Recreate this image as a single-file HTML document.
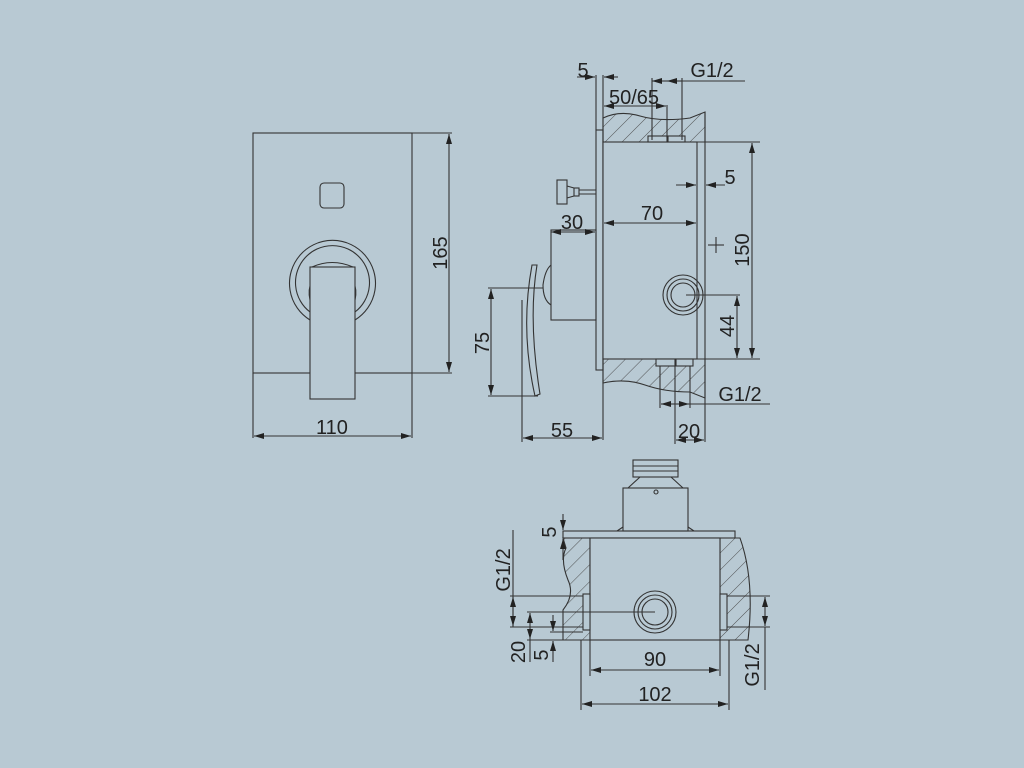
<!DOCTYPE html>
<html><head><meta charset="utf-8"><style>
html,body{margin:0;padding:0;background:#b8c9d3;}
svg{display:block}
text{font-family:"Liberation Sans",sans-serif;font-size:20px;fill:#222;}
</style></head><body>
<svg width="1024" height="768" viewBox="0 0 1024 768" xmlns="http://www.w3.org/2000/svg">
<defs>
<pattern id="h" patternUnits="userSpaceOnUse" width="12" height="12" patternTransform="rotate(45)">
<line x1="0" y1="0" x2="0" y2="12" stroke="#444" stroke-width="0.9"/>
</pattern>
<marker id="a" viewBox="0 0 10 6" refX="10" refY="3" markerWidth="10" markerHeight="6" orient="auto-start-reverse" markerUnits="userSpaceOnUse">
<path d="M0,0 L10,3 L0,6 z" fill="#222"/>
</marker>
</defs>
<rect width="1024" height="768" fill="#b8c9d3"/>
<g fill="none" stroke="#333" stroke-width="1.1">
<!-- LEFT FRONT VIEW -->
<rect x="253" y="133" width="159" height="240"/>
<line x1="412" y1="133" x2="452" y2="133"/>
<line x1="412" y1="373" x2="452" y2="373"/>
<line x1="449" y1="134" x2="449" y2="372" marker-start="url(#a)" marker-end="url(#a)"/>
<line x1="253" y1="373" x2="253" y2="438"/>
<line x1="412" y1="373" x2="412" y2="438"/>
<line x1="254" y1="436" x2="411" y2="436" marker-start="url(#a)" marker-end="url(#a)"/>
<rect x="320" y="183" width="24" height="25" rx="4"/>
<path d="M310,320 A43,43 0 1 1 355,320"/>
<path d="M310,312 A37,37 0 1 1 355,312"/>
<path d="M310,300 A31,31 0 0 1 312,280"/>
<path d="M355,300 A31,31 0 0 0 353,280"/>
<rect x="310" y="267" width="45" height="132" fill="#b8c9d3"/>
<path d="M312,267 Q332,258 353,267"/>

<!-- SIDE VIEW -->
<path d="M603,142 L603,118 Q620,110 640,116 T690,118 L705,112 L705,142 Z" fill="url(#h)"/>
<path d="M603,359 L603,383 Q625,378 645,385 T690,392 L705,398 L705,359 Z" fill="url(#h)"/>
<line x1="603" y1="75" x2="603" y2="440"/>
<rect x="596" y="130" width="7" height="240"/>
<line x1="596" y1="75" x2="596" y2="130"/>
<rect x="603" y="142" width="94" height="217" fill="#b8c9d3"/>
<line x1="705" y1="112" x2="705" y2="442"/>
<rect x="648" y="136" width="19" height="6" fill="#b8c9d3"/>
<rect x="668" y="136" width="17" height="6" fill="#b8c9d3"/>
<rect x="656" y="359" width="19" height="7" fill="#b8c9d3"/>
<rect x="676" y="359" width="17" height="7" fill="#b8c9d3"/>
<circle cx="683" cy="295" r="20"/><circle cx="683" cy="295" r="16"/><circle cx="683" cy="295" r="12"/>
<line x1="686" y1="295" x2="740" y2="295"/>
<rect x="551" y="230" width="45" height="90"/>
<rect x="557" y="180" width="10" height="24"/>
<line x1="567" y1="186" x2="574" y2="188"/><line x1="567" y1="198" x2="574" y2="196"/>
<rect x="574" y="188" width="5" height="8"/>
<line x1="579" y1="190" x2="596" y2="190"/><line x1="579" y1="194" x2="596" y2="194"/>
<path d="M551,265 Q545,270 543,285 Q543,300 551,305"/>
<path d="M532,265 L537,265 Q528,320 540,394 L535,396 Q520,330 532,265 Z"/>
<line x1="488" y1="288" x2="543" y2="288"/>
<line x1="488" y1="396" x2="538" y2="396"/>
<line x1="491" y1="289" x2="491" y2="395" marker-start="url(#a)" marker-end="url(#a)"/>
<line x1="522" y1="300" x2="522" y2="442"/>
<line x1="523" y1="438" x2="602" y2="438" marker-start="url(#a)" marker-end="url(#a)"/>
<line x1="577" y1="77" x2="595" y2="77" marker-end="url(#a)"/>
<line x1="618" y1="77" x2="604" y2="77" marker-end="url(#a)"/>
<line x1="652" y1="81" x2="745" y2="81"/>
<line x1="652" y1="81" x2="667" y2="81" marker-start="url(#a)"/>
<line x1="682" y1="81" x2="667" y2="81" marker-end="url(#a)"/>
<line x1="652" y1="78" x2="652" y2="140"/>
<line x1="682" y1="78" x2="682" y2="140"/>
<line x1="667" y1="105" x2="667" y2="138"/>
<line x1="604" y1="106" x2="666" y2="106" marker-start="url(#a)" marker-end="url(#a)"/>
<line x1="676" y1="185" x2="696" y2="185" marker-end="url(#a)"/>
<line x1="725" y1="185" x2="706" y2="185" marker-end="url(#a)"/>
<line x1="604" y1="223" x2="696" y2="223" marker-start="url(#a)" marker-end="url(#a)"/>
<line x1="551" y1="232" x2="595" y2="232" marker-start="url(#a)" marker-end="url(#a)"/>
<line x1="705" y1="142" x2="760" y2="142"/>
<line x1="705" y1="359" x2="760" y2="359"/>
<line x1="752" y1="143" x2="752" y2="358" marker-start="url(#a)" marker-end="url(#a)"/>
<line x1="737" y1="296" x2="737" y2="358" marker-start="url(#a)" marker-end="url(#a)"/>
<line x1="708" y1="245" x2="724" y2="245"/><line x1="716" y1="237" x2="716" y2="253"/>
<line x1="660" y1="366" x2="660" y2="408"/>
<line x1="675" y1="366" x2="675" y2="444"/>
<line x1="690" y1="366" x2="690" y2="408"/>
<line x1="661" y1="404" x2="770" y2="404"/>
<line x1="661" y1="404" x2="675" y2="404" marker-start="url(#a)"/>
<line x1="689" y1="404" x2="676" y2="404" marker-start="url(#a)"/>
<line x1="676" y1="440" x2="704" y2="440" marker-start="url(#a)" marker-end="url(#a)"/>

<!-- BOTTOM VIEW -->
<rect x="633" y="460" width="45" height="17"/>
<line x1="633" y1="466" x2="678" y2="466"/><line x1="633" y1="471" x2="678" y2="471"/>
<path d="M640,477 L628,488 M671,477 L683,488"/>
<rect x="623" y="488" width="65" height="43"/>
<circle cx="656" cy="492" r="2"/>
<line x1="617" y1="531" x2="623" y2="527"/><line x1="694" y1="531" x2="688" y2="527"/>
<rect x="563" y="531" width="172" height="7"/>
<path d="M563,538 L590,538 L590,640 L563,640 L563,610 Q575,595 568,580 Q560,560 566,548 Z" fill="url(#h)"/>
<path d="M720,538 L740,538 Q755,580 748,640 L720,640 Z" fill="url(#h)"/>
<rect x="590" y="538" width="130" height="102" fill="#b8c9d3"/>
<rect x="583" y="594" width="7" height="36" fill="#b8c9d3"/>
<rect x="720" y="594" width="7" height="36" fill="#b8c9d3"/>
<circle cx="655" cy="612" r="21"/><circle cx="655" cy="612" r="17"/><circle cx="655" cy="612" r="13"/>
<line x1="581" y1="640" x2="581" y2="710"/>
<line x1="729" y1="640" x2="729" y2="710"/>
<line x1="591" y1="670" x2="719" y2="670" marker-start="url(#a)" marker-end="url(#a)"/>
<line x1="582" y1="704" x2="728" y2="704" marker-start="url(#a)" marker-end="url(#a)"/>
<line x1="590" y1="640" x2="590" y2="676"/>
<line x1="720" y1="640" x2="720" y2="676"/>
<line x1="563" y1="514" x2="563" y2="530" marker-end="url(#a)"/>
<line x1="563" y1="560" x2="563" y2="539" marker-end="url(#a)"/>
<line x1="513" y1="530" x2="513" y2="627"/>
<line x1="513" y1="597" x2="513" y2="626" marker-start="url(#a)" marker-end="url(#a)"/>
<line x1="510" y1="596" x2="583" y2="596"/>
<line x1="510" y1="627" x2="583" y2="627"/>
<line x1="527" y1="612" x2="655" y2="612"/>
<line x1="550" y1="632" x2="583" y2="632"/>
<line x1="527" y1="640" x2="563" y2="640"/>
<line x1="530" y1="613" x2="530" y2="639" marker-start="url(#a)" marker-end="url(#a)"/>
<line x1="530" y1="639" x2="530" y2="662"/>
<line x1="553" y1="615" x2="553" y2="631" marker-end="url(#a)"/>
<line x1="553" y1="662" x2="553" y2="641" marker-end="url(#a)"/>
<line x1="727" y1="596" x2="770" y2="596"/>
<line x1="727" y1="627" x2="770" y2="627"/>
<line x1="765" y1="597" x2="765" y2="626" marker-start="url(#a)" marker-end="url(#a)"/>
<line x1="765" y1="627" x2="765" y2="690"/>
</g>
<g>
<text x="332" y="434" text-anchor="middle">110</text>
<text transform="translate(447,253) rotate(-90)" text-anchor="middle">165</text>
<text x="583" y="77" text-anchor="middle">5</text>
<text x="712" y="77" text-anchor="middle">G1/2</text>
<text x="634" y="104" text-anchor="middle">50/65</text>
<text x="730" y="184" text-anchor="middle">5</text>
<text x="652" y="220" text-anchor="middle">70</text>
<text x="572" y="229" text-anchor="middle">30</text>
<text transform="translate(749,250) rotate(-90)" text-anchor="middle">150</text>
<text transform="translate(734,326) rotate(-90)" text-anchor="middle">44</text>
<text transform="translate(489,343) rotate(-90)" text-anchor="middle">75</text>
<text x="562" y="437" text-anchor="middle">55</text>
<text x="740" y="401" text-anchor="middle">G1/2</text>
<text x="689" y="438" text-anchor="middle">20</text>
<text transform="translate(556,532) rotate(-90)" text-anchor="middle">5</text>
<text transform="translate(510,570) rotate(-90)" text-anchor="middle">G1/2</text>
<text transform="translate(525,652) rotate(-90)" text-anchor="middle">20</text>
<text transform="translate(548,655) rotate(-90)" text-anchor="middle">5</text>
<text x="655" y="666" text-anchor="middle">90</text>
<text x="655" y="701" text-anchor="middle">102</text>
<text transform="translate(759,665) rotate(-90)" text-anchor="middle">G1/2</text>
</g>
</svg>
</body></html>
